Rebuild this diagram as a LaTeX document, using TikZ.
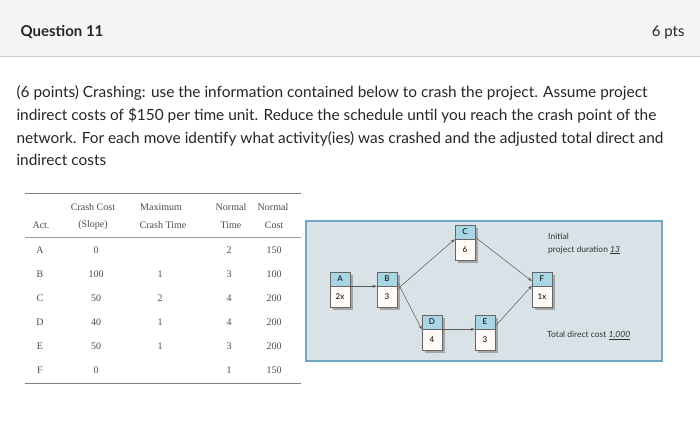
\documentclass[tikz,border=0pt]{standalone}
\usepackage{fontspec}
\setmainfont{Lato}
\newfontfamily\tabfont{Liberation Serif}
\usetikzlibrary{arrows.meta}
\definecolor{topc}{HTML}{A9D6E5}
\definecolor{netbg}{HTML}{D9E3E7}
\definecolor{netbd}{HTML}{6FA8C4}
\begin{document}
\begin{tikzpicture}[x=1pt,y=-1pt,
  body/.style={anchor=base west,font=\fontsize{15.4}{18}\selectfont,text=black!85},
  cell/.style={font=\tabfont\fontsize{10}{12}\selectfont,text=black!70,inner sep=0pt},
  top/.style={draw=black!60,fill=topc,minimum width=20pt,minimum height=14pt,inner sep=0pt,font=\fontsize{8}{9}\selectfont,line width=0.5pt},
  bot/.style={draw=black!60,fill=orange!4,minimum width=20pt,minimum height=21pt,inner sep=0pt,font=\fontsize{8}{9}\selectfont,line width=0.5pt},
  arr/.style={-{Stealth[length=4pt]},draw=black!65,line width=0.5pt},
  small/.style={anchor=base west,font=\fontsize{8.5}{10}\selectfont,text=black!80,inner sep=0pt}]
\useasboundingbox (0,0) rectangle (700,421);
\fill[white] (0,0) rectangle (700,421);
\fill[black!4] (0,0) rectangle (700,56);
\draw[black!20] (0,56.5) -- (700,56.5);
\node[anchor=base west,font=\fontsize{15}{18}\selectfont\bfseries,text=black!85] (q) at (17,36) {Question 11};
\node[anchor=base east,font=\fontsize{15}{18}\selectfont,text=black!85] (p) at (688,36) {6 pts};
\node[body] (l1) at (13,97) {(6 points) Crashing: use the information contained below to crash the project. Assume project};
\node[body] (l2) at (13,120) {indirect costs of \$150 per time unit. Reduce the schedule until you reach the crash point of the};
\node[body] (l3) at (13,143) {network. For each move identify what activity(ies) was crashed and the adjusted total direct and};
\node[body] (l4) at (13,165) {indirect costs};
% table
\draw[black!50,line width=0.8pt] (25,193) -- (301,193);
\draw[black!40,line width=0.6pt] (25,237) -- (301,237);
\draw[black!50,line width=0.8pt] (25,383) -- (301,383);
\node[cell] (h1) at (93,207) {Crash Cost};
\node[cell] (h2) at (161,207) {Maximum};
\node[cell] (h3) at (231,207) {Normal};
\node[cell] (h4) at (273,207) {Normal};
\node[cell] (h0) at (41,225) {Act.};
\node[cell] (h1b) at (93,225) {(Slope)};
\node[cell] (h2b) at (163,225) {Crash Time};
\node[cell] (h3b) at (231,225) {Time};
\node[cell] (h4b) at (274,225) {Cost};
\foreach \a/\c/\m/\t/\n [count=\i] in {A/0//2/150,B/100/1/3/100,C/50/2/4/200,D/40/1/4/200,E/50/1/3/200,F/0//1/150}{
  \pgfmathsetmacro{\yy}{226+24*\i}
  \node[cell] (ra\i) at (40,\yy) {\a};
  \node[cell] (rc\i) at (96,\yy) {\c};
  \node[cell] (rm\i) at (160,\yy) {\m};
  \node[cell] (rt\i) at (229,\yy) {\t};
  \node[cell] (rn\i) at (274,\yy) {\n};
}
% network
\draw[netbd,fill=netbg,line width=1.2pt] (306,221) rectangle (662,361);
\foreach \nm/\x/\y/\lab/\val in {A/340/272/A/2x,B/387/272/B/3,C/465/225/C/6,D/432/315/D/4,E/485/315/E/3,F/542/272/F/1x}{
  \fill[black!35] (\x-10+2.5,\y+2.5) rectangle (\x+10+2.5,\y+35+2.5);
  \node[top] (\nm t) at (\x,\y+7) {\lab};
  \node[bot] (\nm b) at (\x,\y+24.5) {\val};
}
\draw[arr] (At.south east) -- (Bt.south west);
\draw[arr] ([yshift=-3pt]Bt.south east) -- (Ct.south west);
\draw[arr] ([yshift=4pt]Bb.north east) -- (Dt.south west);
\draw[arr] (Dt.south east) -- (Et.south west);
\draw[arr] ([yshift=2pt]Ct.south east) -- ([yshift=-2pt]Ft.west);
\draw[arr] ([yshift=3pt]Et.south east) -- (Fb.north west);
\node[small] (i1) at (548,239) {Initial};
\node[small] (i2) at (548,252) {project duration \underline{\textit{13}}};
\node[small] (tc) at (547,337) {Total direct cost \underline{\textit{1,000}}};
\end{tikzpicture}
\end{document}
